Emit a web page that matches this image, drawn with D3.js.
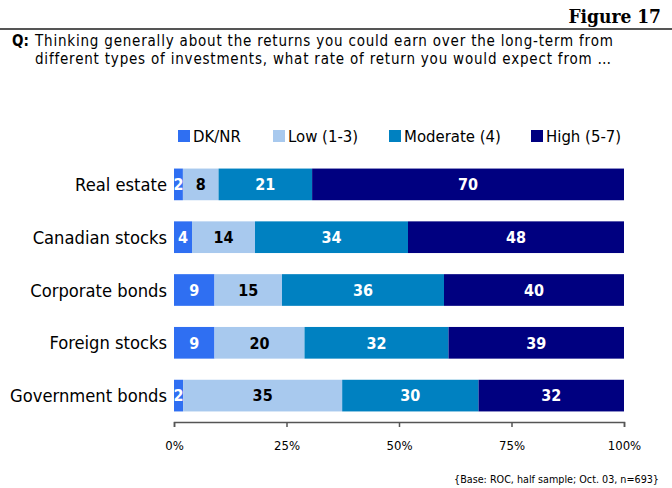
<!DOCTYPE html>
<html>
<head>
<meta charset="utf-8">
<script src="https://cdn.jsdelivr.net/npm/d3@7"></script>
<style>
  html, body { margin: 0; padding: 0; background: #fff; }
  svg { display: block; }
  text { font-family: "DejaVu Sans Condensed", "DejaVu Sans", sans-serif; }
</style>
</head>
<body>
<svg id="chart" width="672" height="488"></svg>
<script>
// Survey responses (%) per investment type
const categories = ["Real estate", "Canadian stocks", "Corporate bonds", "Foreign stocks", "Government bonds"];
const seriesNames = ["DK/NR", "Low (1-3)", "Moderate (4)", "High (5-7)"];
const dkNr     = [2, 4, 9, 9, 2];
const low      = [8, 14, 15, 20, 35];
const moderate = [21, 34, 36, 32, 30];
const high     = [70, 48, 40, 39, 32];
const tickValues = [0, 0.25, 0.5, 0.75, 1];

const colors = ["#2f6ff2", "#a8c9ee", "#0081c1", "#000080"];
const labelColors = ["#fff", "#000", "#fff", "#fff"];

const svg = d3.select("#chart");
const W = 672;

// Header
svg.append("text")
  .attr("x", 661).attr("y", 23)
  .attr("text-anchor", "end")
  .style("font-family", "'DejaVu Serif Condensed', 'DejaVu Serif', serif")
  .style("font-weight", "bold")
  .style("font-size", "19px")
  .text("Figure 17");
svg.append("line")
  .attr("x1", 0).attr("x2", W).attr("y1", 29).attr("y2", 29)
  .attr("stroke", "#555").attr("stroke-width", 2);

// Question text
svg.append("text")
  .attr("x", 12).attr("y", 46)
  .style("font-size", "15px").style("font-weight", "bold")
  .text("Q:");
const qLines = [
  "Thinking generally about the returns you could earn over the long-term from",
  "different types of investments, what rate of return you would expect from …"
];
svg.selectAll("text.q").data(qLines).join("text")
  .attr("class", "q")
  .attr("x", 35)
  .attr("y", (d, i) => 46 + i * 17.5)
  .style("font-size", "15px")
  .style("letter-spacing", "0.8px")
  .text(d => d);

// Scales
const x = d3.scaleLinear().domain([0, 1]).range([174, 624]);
const y = d3.scaleBand().domain(categories).range([158, 422]).paddingInner(0.4).paddingOuter(0.2);

// Stack, normalised so each bar spans 0–100%
const rows = categories.map((c, i) => ({
  cat: c,
  values: [dkNr[i], low[i], moderate[i], high[i]]
}));
const stacked = rows.map(r => {
  const total = d3.sum(r.values);
  let acc = 0;
  return r.values.map((v, k) => {
    const seg = { cat: r.cat, k, v, x0: acc / total, x1: (acc + v) / total };
    acc += v;
    return seg;
  });
}).flat();

// Legend
const legendX = [178, 273, 389, 531];
const legend = svg.append("g");
seriesNames.forEach((name, k) => {
  legend.append("rect")
    .attr("x", legendX[k]).attr("y", 130).attr("width", 12).attr("height", 12)
    .attr("fill", colors[k]);
  legend.append("text")
    .attr("x", legendX[k] + 15).attr("y", 142)
    .style("font-size", "16.6px")
    .text(name);
});

// Bars
svg.append("g").selectAll("rect").data(stacked).join("rect")
  .attr("x", d => x(d.x0))
  .attr("width", d => x(d.x1) - x(d.x0))
  .attr("y", d => y(d.cat))
  .attr("height", y.bandwidth())
  .attr("fill", d => colors[d.k]);

svg.append("g").selectAll("text").data(stacked).join("text")
  .attr("x", d => (x(d.x0) + x(d.x1)) / 2)
  .attr("y", d => y(d.cat) + y.bandwidth() / 2)
  .attr("dy", "0.36em")
  .attr("text-anchor", "middle")
  .style("font-size", "16px").style("font-weight", "bold")
  .attr("fill", d => labelColors[d.k])
  .text(d => d.v);

// Category labels
svg.append("g").selectAll("text").data(categories).join("text")
  .attr("x", 167)
  .attr("y", d => y(d) + y.bandwidth() / 2)
  .attr("dy", "0.36em")
  .attr("text-anchor", "end")
  .style("font-size", "18.2px")
  .text(d => d);

// X axis
const axis = svg.append("g").attr("transform", "translate(0,422)")
  .call(d3.axisBottom(x).tickValues(tickValues).tickFormat(d3.format(".0%")).tickSize(5).tickPadding(14));
axis.select(".domain").attr("stroke", "#555").attr("stroke-width", 1.5);
axis.selectAll(".tick line").attr("stroke", "#555").attr("stroke-width", 1.5);
axis.selectAll(".tick text")
  .style("font-family", "'DejaVu Sans Condensed', 'DejaVu Sans', sans-serif")
  .style("font-size", "13px").attr("fill", "#000");

// Footnote
svg.append("text")
  .attr("x", 659).attr("y", 483)
  .attr("text-anchor", "end")
  .style("font-size", "10.7px")
  .text("{Base: ROC, half sample; Oct. 03, n=693}");
</script>
</body>
</html>
